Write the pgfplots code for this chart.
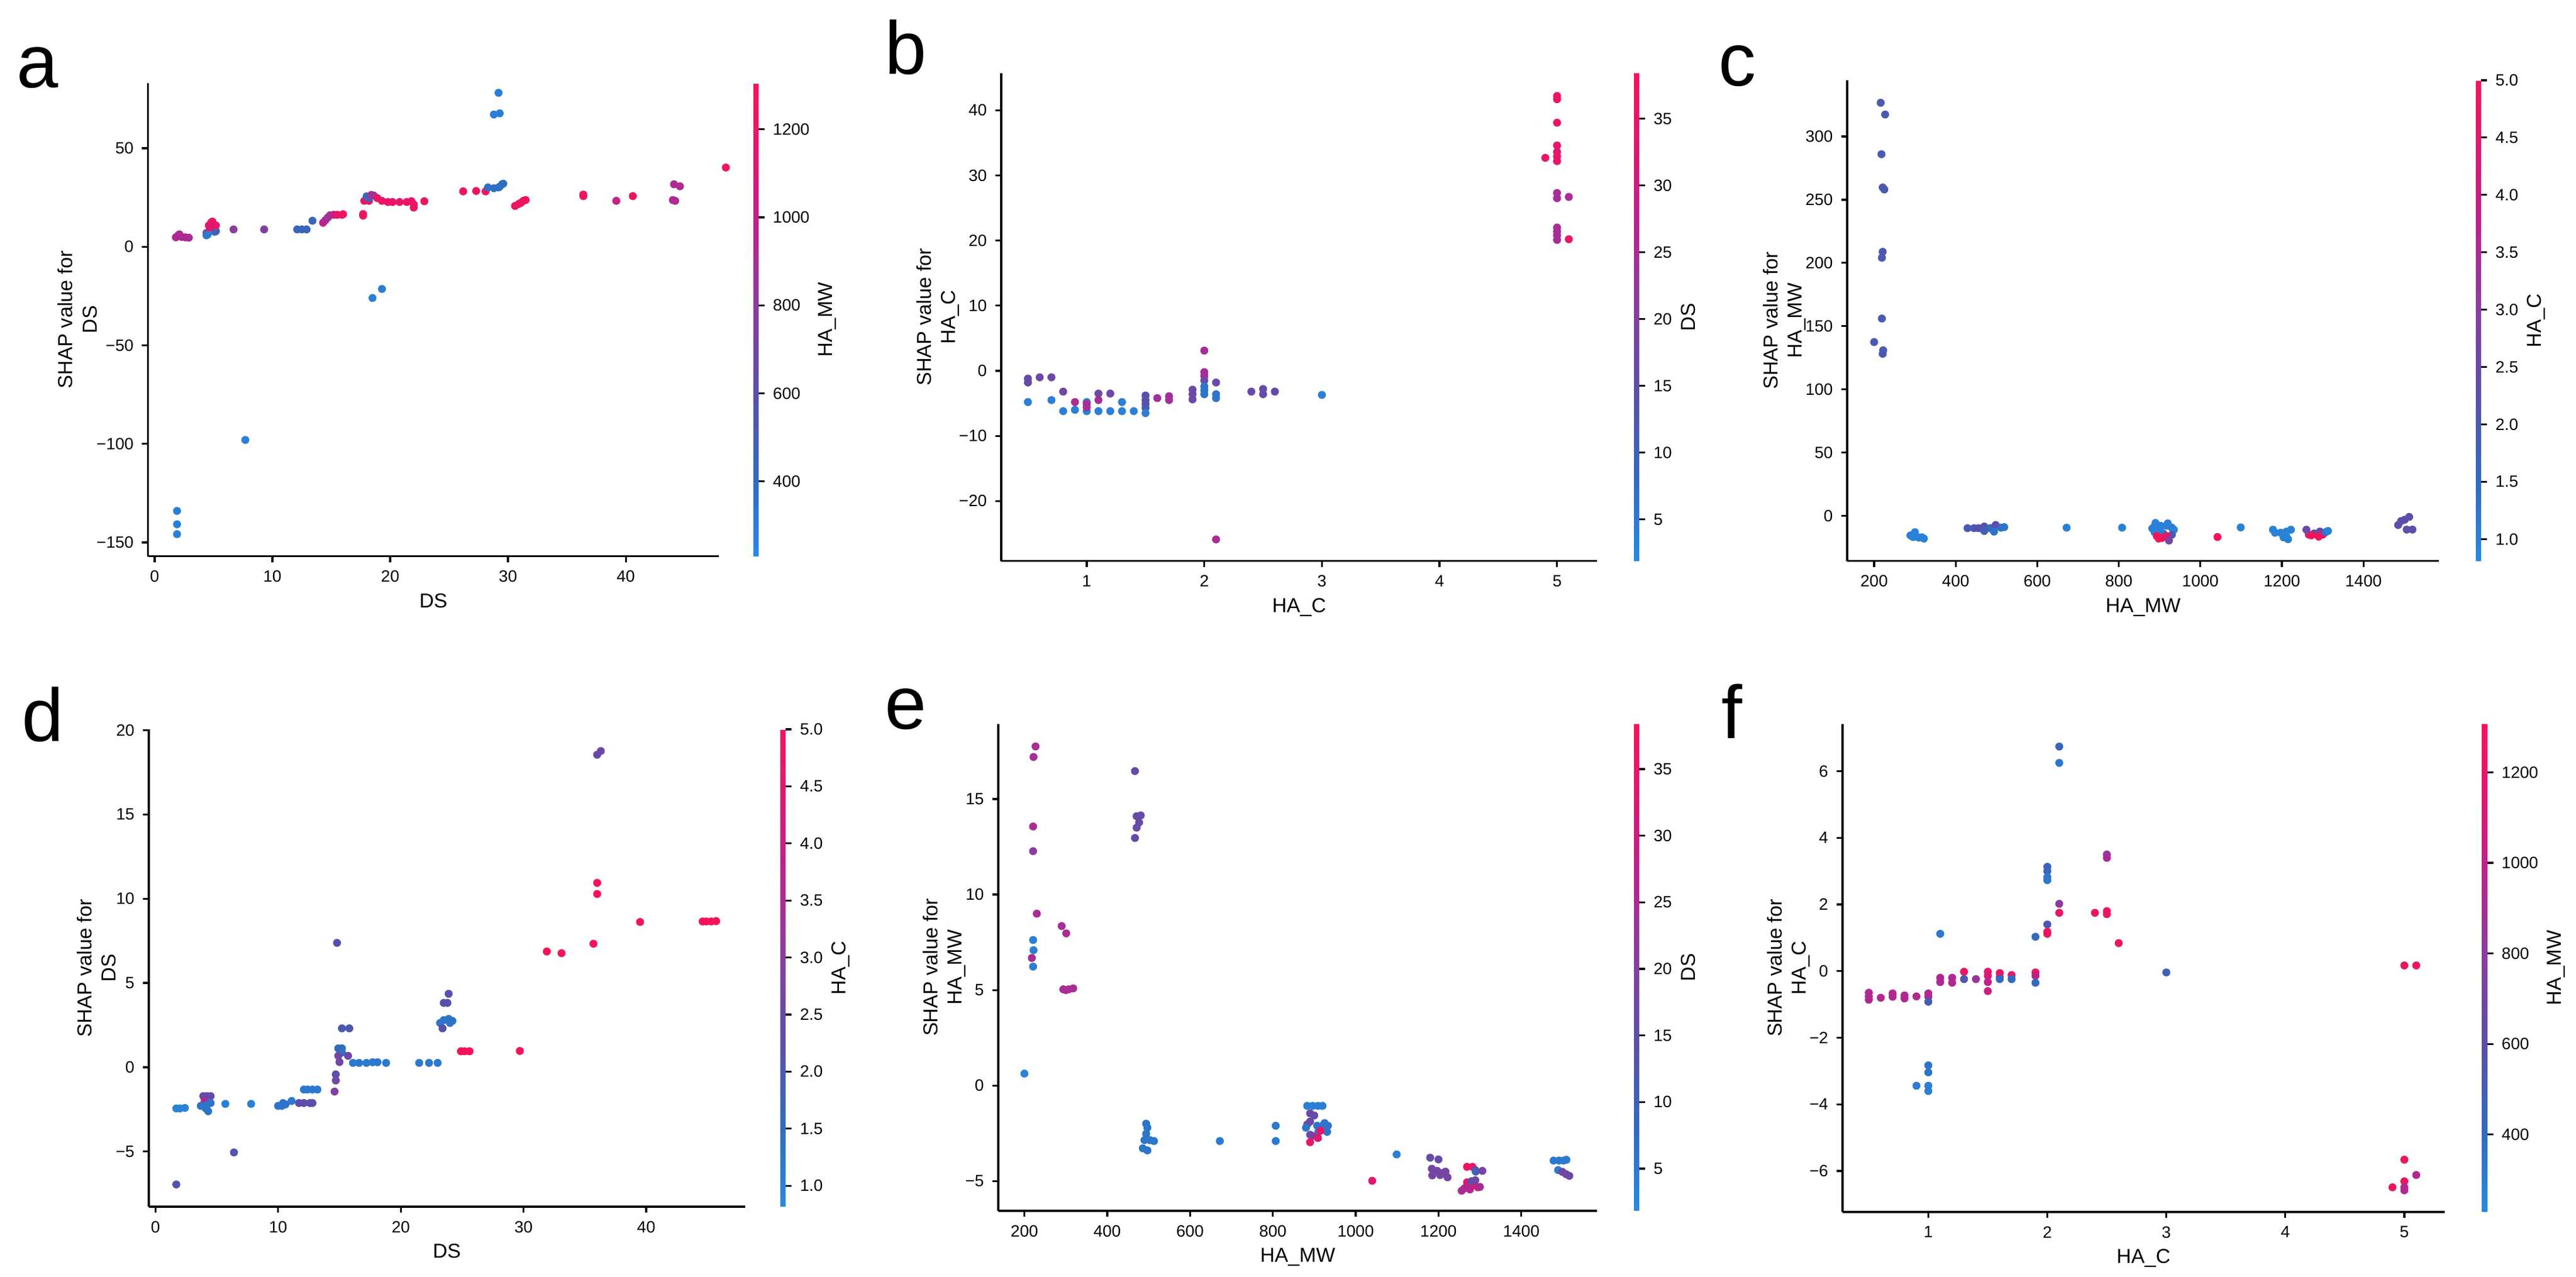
\documentclass[border=0pt]{standalone}
\usepackage{fontspec}
\setmainfont{Liberation Sans}
\usepackage{pgfplots}
\pgfplotsset{compat=1.18}
\pgfplotsset{
  colormap={shap}{rgb255(0pt)=(40,138,225); rgb255(16pt)=(47,108,192); rgb255(34pt)=(89,80,170); rgb255(53pt)=(140,60,159); rgb255(72pt)=(192,32,138); rgb255(90pt)=(230,22,106); rgb255(100pt)=(245,20,90)},
  shapax/.style={
    scale only axis, anchor=south west,
    axis lines=left, axis line style={line width=0.9pt,-},
    tick align=outside, major tick length=2.6pt,
    tick style={line width=0.8pt,black},
    ticklabel style={font=\fontsize{7}{8.4}\selectfont},
    label style={font=\fontsize{8.6}{10.3}\selectfont},
    ylabel style={align=center},
    ylabel shift=-7pt, xlabel shift=-2pt,
    scaled ticks=false,
    colormap name=shap,
    colorbar,
    colorbar style={
      at={(parent axis.south east)}, anchor=south west,
      scale only axis, width=2.25pt,
      axis line style={draw=none},
      tick align=outside, major tick length=2.6pt,
      tick style={line width=0.8pt,black},
      ytick pos=right, yticklabel pos=right,
      yticklabel style={font=\fontsize{7}{8.4}\selectfont},
      ylabel style={font=\fontsize{8.6}{10.3}\selectfont},
      ylabel shift=-3pt,
    },
  },
  pts/.style={scatter, only marks, mark=*, mark size=1.5pt, scatter src=explicit,
    scatter/use mapped color={draw=mapped color, fill=mapped color}},
}
\begin{document}
\begin{tikzpicture}[x=1pt,y=1pt]
\path[use as bounding box] (0,0) rectangle (1099.25,545);
% ---------------- a
\begin{axis}[shapax, at={(63.125pt,307.6pt)}, width=243.6pt, height=201.9pt,
  xmin=-0.57, xmax=47.9, ymin=-157, ymax=83, clip=false,
  xtick={0,10,20,30,40}, xticklabels={0,10,20,30,40},
  ytick={-150,-100,-50,0,50}, yticklabels={−150,−100,−50,0,50},
  xlabel={DS}, ylabel={SHAP value for\\DS},
  point meta min=230, point meta max=1305,
  colorbar style={xshift=6.21pt, ytick={400,600,800,1000,1200}, yticklabels={400,600,800,1000,1200}, ylabel={HA\_MW}}]
\addplot[pts] table[meta=c, row sep=\\] {
x y c\\
1.8 4.8 950\\ 2.0 5.8 960\\ 2.3 5.0 940\\ 2.6 4.8 950\\ 2.1 6.3 930\\ 2.9 4.6 900\\
4.4 7.0 850\\ 4.5 6.2 330\\ 4.4 5.8 330\\ 5.1 7.6 450\\ 5.2 7.9 470\\
4.6 10.8 1230\\ 4.8 12.3 1250\\ 4.9 12.8 1250\\ 5.0 11.5 1230\\ 5.2 10.8 1200\\ 4.7 9.8 1150\\
6.7 8.8 800\\ 9.3 8.8 750\\ 12.1 8.8 450\\ 12.5 8.8 450\\ 12.9 8.8 450\\ 13.4 13.2 450\\
14.3 12.2 1000\\ 14.5 13.5 950\\ 14.7 14.8 850\\ 14.9 16.0 900\\ 15.2 16.2 1000\\ 15.5 16.2 1200\\ 15.9 16.2 1250\\ 16.0 16.5 1250\\
17.7 15.8 1250\\ 17.7 16.6 1250\\ 17.8 23.3 1250\\ 18.2 23.3 1250\\
18.0 25.6 450\\ 18.2 24.7 450\\ 18.4 26.3 900\\ 18.6 26.0 850\\
18.9 24.7 1230\\ 19.3 23.3 1230\\ 19.8 22.7 1230\\ 20.2 22.7 1230\\ 20.8 22.7 1230\\ 21.4 22.7 1230\\ 21.8 23.1 1230\\ 22.0 19.9 1230\\ 22.0 21.5 1230\\ 22.9 23.1 1230\\
18.5 -26.0 300\\ 19.3 -21.4 300\\
26.2 28.1 1260\\ 27.3 28.3 1260\\ 28.1 28.1 1260\\
28.3 30.1 380\\ 28.8 29.7 380\\ 29.2 30.1 380\\ 29.3 30.5 380\\ 29.5 31.7 380\\ 29.6 32.0 400\\
29.2 78.1 290\\ 28.8 67.1 300\\ 29.3 67.7 300\\
30.6 20.7 1250\\ 30.9 21.7 1250\\ 31.1 22.3 1250\\ 31.3 23.3 1250\\ 31.5 23.7 1250\\
36.4 25.7 1260\\ 36.4 26.5 1260\\ 39.2 23.3 1050\\ 40.6 25.7 1250\\
44.1 31.7 930\\ 44.6 30.7 930\\ 44.0 23.7 930\\ 44.2 23.3 930\\
48.5 40.2 1280\\
1.9 -134 290\\ 1.9 -140.8 290\\ 1.9 -145.8 290\\ 7.7 -98 300\\
};
\end{axis}
% ---------------- b
\begin{axis}[shapax, at={(427.25pt,305.6pt)}, width=254.25pt, height=208.15pt,
  xmin=0.273, xmax=5.34, ymin=-29.2, ymax=45.7,
  xtick={1,2,3,4,5}, xticklabels={1,2,3,4,5},
  ytick={-20,-10,0,10,20,30,40}, yticklabels={−20,−10,0,10,20,30,40},
  xlabel={HA\_C}, ylabel={SHAP value for\\HA\_C},
  point meta min=1.9, point meta max=38.4,
  colorbar style={xshift=7.21pt, ytick={5,10,15,20,25,30,35}, yticklabels={5,10,15,20,25,30,35}, ylabel={DS}}]
\addplot[pts] table[meta=c, row sep=\\] {
x y c\\
5.0 42.2 36\\ 5.0 41.7 36\\ 5.0 38.1 36\\ 5.0 34.6 35\\ 5.0 33.6 34\\ 4.9 32.7 35\\ 5.0 32.9 35\\ 5.0 32.2 35\\
5.0 27.3 25\\ 5.0 26.5 25\\ 5.1 26.7 25\\ 5.0 22.0 25\\ 5.0 21.4 25\\ 5.0 20.8 25\\ 5.0 20.1 25\\ 5.1 20.2 35\\
0.5 -1.2 16\\ 0.5 -1.8 16\\ 0.6 -1.0 17\\ 0.7 -1.0 17\\ 0.5 -4.8 4\\ 0.7 -4.5 4\\ 0.8 -3.2 17\\ 0.8 -6.2 4\\
0.9 -6.0 4\\ 0.9 -4.8 25\\ 1.0 -4.8 4\\ 1.0 -6.2 4\\ 1.0 -5.1 25\\ 1.0 -5.6 25\\ 1.1 -6.2 4\\ 1.1 -3.5 17\\
1.1 -4.5 25\\ 1.2 -3.5 17\\ 1.2 -6.2 4\\ 1.3 -4.8 4\\ 1.3 -6.2 4\\ 1.4 -6.2 4\\
1.5 -3.8 14\\ 1.5 -4.5 14\\ 1.5 -5.1 14\\ 1.5 -5.7 12\\ 1.5 -6.5 4\\ 1.6 -4.2 24\\ 1.7 -3.9 24\\ 1.7 -4.5 24\\
1.9 -2.9 17\\ 1.9 -3.6 17\\ 1.9 -4.4 17\\ 2.0 3.1 25\\ 2.0 -0.2 25\\ 2.0 -0.8 25\\ 2.0 -1.5 17\\
2.0 -2.4 6\\ 2.0 -3.0 6\\ 2.0 -3.6 6\\ 2.1 -1.8 17\\ 2.1 -3.6 6\\ 2.1 -4.2 6\\ 2.1 -25.9 25\\
2.4 -3.2 16\\ 2.5 -2.8 16\\ 2.5 -3.6 16\\ 2.6 -3.2 16\\ 3.0 -3.7 4\\
};
\end{axis}
% ---------------- c
\begin{axis}[shapax, at={(788.25pt,305.6pt)}, width=252.5pt, height=205.15pt,
  xmin=134, xmax=1585, ymin=-35.7, ymax=344.5,
  xtick={200,400,600,800,1000,1200,1400}, xticklabels={200,400,600,800,1000,1200,1400},
  ytick={0,50,100,150,200,250,300}, yticklabels={0,50,100,150,200,250,300},
  xlabel={HA\_MW}, ylabel={SHAP value for\\HA\_MW},
  point meta min=0.81, point meta max=5.0,
  colorbar style={xshift=7.21pt, ytick={1,1.5,2,2.5,3,3.5,4,4.5,5}, yticklabels={1.0,1.5,2.0,2.5,3.0,3.5,4.0,4.5,5.0}, ylabel={HA\_C}}]
\addplot[pts] table[meta=c, row sep=\\] {
x y c\\
216 326.7 2.0\\ 227 317.4 2.0\\ 218 286 2.0\\ 221 259.7 2.0\\ 225 258.1 2.0\\ 221 208.8 2.0\\ 219 204.1 2.0\\
219 156 2.0\\ 200 137.4 2.0\\ 222 130.9 2.0\\ 221 128.1 2.0\\
289 -15.5 1.0\\ 295 -16.8 1.0\\ 303 -16.5 1.0\\ 310 -17.3 1.0\\ 317 -17 1.0\\ 300 -13 1.0\\ 322 -18 1.0\\
429 -9.8 2.0\\ 445 -9.8 2.0\\ 456 -9.8 2.2\\ 470 -8.5 2.2\\ 485 -9.8 1.5\\ 498 -7.3 2.3\\ 511 -9.4 1.4\\ 494 -12.5 1.3\\ 470 -12 1.8\\ 519 -9 1.3\\
672 -9.4 1.0\\ 808 -9.4 1.0\\
888 -7.9 1.0\\ 902 -7.9 1.0\\ 916 -7.9 1.0\\ 930 -9.4 1.3\\ 888 -13.1 1.0\\ 909 -14.0 1.2\\ 900 -10.5 1.0\\
890 -5.7 1.0\\ 920 -6 1.0\\ 935 -11 1.0\\ 882 -10 1.0\\
930 -15.0 2.0\\ 893 -16.0 4.8\\ 906 -17.5 5.0\\ 917 -16.0 4.5\\ 898 -18.0 5.0\\ 923 -19.6 2.7\\
1042 -16.8 5.0\\ 1099 -9.2 1.0\\
1183 -13.4 1.0\\ 1197 -13.4 1.0\\ 1211 -12.5 1.0\\ 1204 -17.1 1.0\\ 1210 -15.5 1.0\\ 1178 -11 1.0\\ 1222 -11 1.0\\ 1215 -18.5 1.0\\
1266 -14.9 4.5\\ 1279 -14.0 2.5\\ 1293 -12.5 2.5\\ 1300 -14.9 5.0\\ 1272 -15.5 5.0\\ 1290 -16.5 5.0\\ 1260 -11 2.5\\ 1307 -13.0 1.3\\ 1313 -12 1.0\\
1485 -7.3 2.3\\ 1492 -4.2 2.3\\ 1501 -3.1 2.3\\ 1512 -0.9 2.3\\ 1506 -10.9 2.3\\ 1520 -10.9 2.3\\
};
\end{axis}
% ---------------- d
\begin{axis}[shapax, at={(63.5pt,30pt)}, width=254.4pt, height=203.75pt,
  xmin=-0.54, xmax=48.05, ymin=-8.27, ymax=20.05,
  xtick={0,10,20,30,40}, xticklabels={0,10,20,30,40},
  ytick={-5,0,5,10,15,20}, yticklabels={−5,0,5,10,15,20},
  xlabel={DS}, ylabel={SHAP value for\\DS},
  point meta min=0.816, point meta max=5.0,
  colorbar style={xshift=6.56pt, ytick={1,1.5,2,2.5,3,3.5,4,4.5,5}, yticklabels={1.0,1.5,2.0,2.5,3.0,3.5,4.0,4.5,5.0}, ylabel={HA\_C}}]
\addplot[pts] table[meta=c, row sep=\\] {
x y c\\
36.0 18.54 2.5\\ 36.3 18.76 2.5\\ 36.0 10.94 5.0\\ 36.0 10.28 5.0\\ 39.5 8.62 5.0\\
44.6 8.65 5.0\\ 44.9 8.65 5.0\\ 45.3 8.65 5.0\\ 45.7 8.67 5.0\\ 31.9 6.87 5.0\\ 33.1 6.77 5.0\\ 35.7 7.33 5.0\\
14.8 7.38 2.2\\ 23.9 4.36 2.2\\ 23.5 3.82 2.2\\ 23.8 3.82 2.2\\
23.2 2.63 1.3\\ 23.5 2.80 1.3\\ 23.9 2.87 1.3\\ 24.2 2.75 1.3\\ 24.0 2.63 1.3\\ 23.4 2.31 2.2\\
24.9 0.95 5.0\\ 25.2 0.95 5.0\\ 25.6 0.95 5.0\\ 29.7 0.97 5.0\\
16.1 0.26 1.2\\ 16.6 0.26 1.2\\ 17.2 0.26 1.2\\ 17.7 0.30 1.2\\ 18.1 0.30 1.2\\ 18.8 0.26 1.2\\ 21.5 0.26 1.2\\ 22.3 0.26 1.2\\ 23.0 0.26 1.2\\
14.9 1.12 1.5\\ 15.2 1.12 1.5\\ 15.2 0.87 1.3\\ 14.9 0.68 2.6\\ 15.0 0.31 2.6\\ 15.7 0.68 2.6\\ 15.2 2.31 2.0\\ 15.8 2.31 2.0\\
14.7 -0.42 2.3\\ 14.7 -0.78 2.6\\ 14.6 -1.44 2.8\\
12.1 -1.32 1.2\\ 12.4 -1.32 1.2\\ 12.8 -1.32 1.2\\ 13.2 -1.32 1.2\\
11.7 -2.12 2.3\\ 12.1 -2.12 2.3\\ 12.6 -2.12 2.3\\ 12.8 -2.12 2.3\\
11.1 -2.0 1.2\\ 10.4 -2.12 1.3\\ 10.0 -2.29 1.3\\ 10.3 -2.29 1.3\\ 10.6 -2.20 1.3\\ 7.8 -2.17 1.0\\ 5.7 -2.17 1.0\\
3.9 -1.71 2.4\\ 4.2 -1.71 2.4\\ 4.5 -1.71 2.4\\ 4.0 -2.0 3.5\\ 3.7 -2.29 1.3\\ 4.1 -2.44 1.3\\ 4.3 -2.61 1.3\\ 4.2 -2.24 1.3\\ 4.5 -2.12 1.3\\
1.7 -2.44 1.0\\ 2.0 -2.44 1.0\\ 2.4 -2.41 1.0\\ 6.4 -5.05 2.1\\ 1.7 -6.95 2.1\\
};
\end{axis}
% ---------------- e
\begin{axis}[shapax, at={(426pt,28.25pt)}, width=255.5pt, height=207.8pt,
  xmin=137, xmax=1583, ymin=-6.55, ymax=18.93,
  xtick={200,400,600,800,1000,1200,1400}, xticklabels={200,400,600,800,1000,1200,1400},
  ytick={-5,0,5,10,15}, yticklabels={−5,0,5,10,15},
  xlabel={HA\_MW}, ylabel={SHAP value for\\HA\_MW},
  point meta min=1.83, point meta max=38.4,
  colorbar style={xshift=7.21pt, ytick={5,10,15,20,25,30,35}, yticklabels={5,10,15,20,25,30,35}, ylabel={DS}}]
\addplot[pts] table[meta=c, row sep=\\] {
x y c\\
227 17.75 25\\ 222 17.2 25\\ 221 13.56 25\\ 221 12.27 21\\ 230 9.0 25\\ 290 8.35 25\\ 301 7.97 25\\
294 5.04 25\\ 307 5.04 25\\ 318 5.09 25\\ 300 5.0 25\\ 218 6.68 25\\ 221 7.62 4\\ 222 7.09 4\\ 221 6.23 4\\ 200 0.63 3\\
467 16.46 16\\ 471 14.1 16\\ 481 14.14 16\\ 477 13.77 16\\ 471 13.5 16\\ 467 12.96 16\\
494 -1.99 6\\ 497 -2.2 6\\ 490 -2.85 6\\ 503 -2.85 6\\ 513 -2.9 6\\ 486 -3.28 6\\ 497 -3.39 6\\ 494 -2.52 6\\
672 -2.9 5\\ 807 -2.1 5\\ 807 -2.9 5\\
883 -1.06 4\\ 896 -1.06 4\\ 909 -1.06 4\\ 920 -1.06 4\\ 890 -1.45 16\\ 900 -1.56 16\\ 890 -1.88 16\\ 883 -2.03 17\\
907 -2.1 6\\ 920 -2.1 6\\ 933 -2.1 6\\ 910 -2.42 6\\ 931 -2.42 6\\ 880 -2.2 6\\ 925 -1.96 6\\
896 -2.63 25\\ 890 -2.57 17\\ 890 -2.96 35\\ 909 -2.74 34\\ 915 -2.36 35\\
1040 -4.98 34\\ 1099 -3.6 4\\
1180 -3.77 16\\ 1200 -3.86 16\\ 1184 -4.35 18\\ 1197 -4.46 18\\ 1210 -4.57 18\\ 1204 -4.68 18\\ 1217 -4.5 18\\ 1222 -4.8 18\\ 1185 -4.7 18\\
1269 -4.25 36\\ 1282 -4.25 36\\ 1289 -4.42 17\\ 1290 -4.5 10\\ 1269 -5.06 34\\ 1282 -5.2 33\\ 1295 -5.32 33\\ 1263 -5.37 26\\ 1276 -5.43 26\\ 1256 -5.5 25\\ 1300 -5.3 25\\ 1280 -5.0 14\\ 1289 -4.95 17\\ 1306 -4.46 18\\
1478 -3.92 5\\ 1491 -3.92 5\\ 1502 -3.92 5\\ 1509 -3.88 5\\ 1489 -4.42 5\\ 1499 -4.51 17\\ 1508 -4.63 17\\ 1516 -4.72 17\\
};
\end{axis}
% ---------------- f
\begin{axis}[shapax, at={(786.25pt,27.75pt)}, width=256.9pt, height=208.3pt,
  xmin=0.279, xmax=5.338, ymin=-7.23, ymax=7.42,
  xtick={1,2,3,4,5}, xticklabels={1,2,3,4,5},
  ytick={-6,-4,-2,0,2,4,6}, yticklabels={−6,−4,−2,0,2,4,6},
  xlabel={HA\_C}, ylabel={SHAP value for\\HA\_C},
  point meta min=229, point meta max=1307,
  colorbar style={xshift=7.46pt, ytick={400,600,800,1000,1200}, yticklabels={400,600,800,1000,1200}, ylabel={HA\_MW}}]
\addplot[pts] table[meta=c, row sep=\\] {
x y c\\
0.5 -0.65 950\\ 0.5 -0.76 950\\ 0.5 -0.86 950\\ 0.6 -0.80 950\\ 0.7 -0.67 950\\ 0.7 -0.77 950\\ 0.8 -0.73 950\\ 0.8 -0.82 950\\
0.9 -0.76 950\\ 1.0 -0.67 950\\ 1.0 -0.77 950\\ 1.0 -0.92 500\\ 1.0 -2.83 350\\ 1.0 -3.04 350\\ 0.9 -3.44 300\\ 1.0 -3.44 300\\ 1.0 -3.6 300\\
1.1 1.12 330\\ 1.1 -0.2 950\\ 1.1 -0.33 950\\ 1.2 -0.2 950\\ 1.2 -0.35 950\\ 1.3 -0.02 1250\\ 1.3 -0.24 550\\ 1.4 -0.24 850\\
1.5 -0.02 1200\\ 1.5 -0.14 1150\\ 1.5 -0.33 1000\\ 1.5 -0.6 1050\\ 1.6 -0.06 1250\\ 1.6 -0.18 1200\\ 1.6 -0.24 400\\
1.7 -0.12 1250\\ 1.7 -0.24 400\\ 1.9 -0.04 1250\\ 1.9 -0.14 1000\\ 1.9 -0.35 400\\ 1.9 1.03 420\\
2.0 3.13 450\\ 2.0 3.0 450\\ 2.0 2.82 330\\ 2.0 2.73 330\\ 2.0 1.4 550\\ 2.0 1.18 1250\\ 2.0 1.12 1250\\
2.1 6.74 450\\ 2.1 6.25 330\\ 2.1 2.02 800\\ 2.1 1.75 1250\\ 2.4 1.75 1250\\ 2.5 1.8 1250\\ 2.5 1.71 1250\\ 2.5 3.5 850\\ 2.5 3.4 900\\
2.6 0.84 1250\\ 3.0 -0.04 480\\ 5.0 0.17 1250\\ 5.1 0.17 1250\\
5.0 -5.66 1250\\ 5.0 -6.31 1250\\ 4.9 -6.49 1250\\ 5.0 -6.49 950\\ 5.0 -6.58 950\\ 5.1 -6.12 950\\
};
\end{axis}
% panel letters
\node[anchor=base west, inner sep=0pt, font=\fontsize{32}{38}\selectfont] at (7,507.5) {a};
\node[anchor=base west, inner sep=0pt, font=\fontsize{32}{38}\selectfont] at (377.5,513.25) {b};
\node[anchor=base west, inner sep=0pt, font=\fontsize{32}{38}\selectfont] at (733.25,508.25) {c};
\node[anchor=base west, inner sep=0pt, font=\fontsize{32}{38}\selectfont] at (9.25,228.5) {d};
\node[anchor=base west, inner sep=0pt, font=\fontsize{32}{38}\selectfont] at (377.5,233.75) {e};
\node[anchor=base west, inner sep=0pt, font=\fontsize{32}{38}\selectfont] at (734.5,229.75) {f};
\end{tikzpicture}
\end{document}
